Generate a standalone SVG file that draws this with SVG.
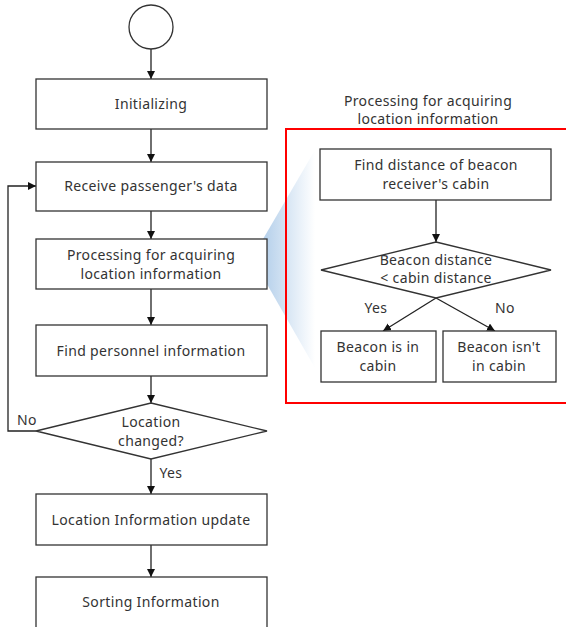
<svg xmlns="http://www.w3.org/2000/svg" width="566" height="627" viewBox="0 0 566 627">
<defs>
<style>
.box{fill:#fff;stroke:#333;stroke-width:1.3}
.t{font-family:"Noto Sans","Open Sans",sans-serif;font-size:14px;fill:#333;text-anchor:middle;letter-spacing:0.35px}
.c{fill:none;stroke:#222;stroke-width:1.3}
</style>
<marker id="ah" viewBox="0 0 10 10" refX="10" refY="5" markerWidth="8" markerHeight="8" markerUnits="userSpaceOnUse" orient="auto">
<path d="M0,0 L10,5 L0,10 Z" fill="#111"/>
</marker>
<linearGradient id="bg" x1="0" y1="0" x2="1" y2="0">
<stop offset="0" stop-color="#a4c5e6"/>
<stop offset="1" stop-color="#a4c5e6" stop-opacity="0"/>
</linearGradient>
</defs>
<rect width="566" height="627" fill="#fff"/>
<polygon points="252,258 315,150 315,368" fill="url(#bg)"/>
<g id="connectors">
<line class="c" x1="151" y1="49" x2="151" y2="79" marker-end="url(#ah)"/>
<line class="c" x1="151" y1="129" x2="151" y2="162" marker-end="url(#ah)"/>
<line class="c" x1="151" y1="211" x2="151" y2="239" marker-end="url(#ah)"/>
<line class="c" x1="151" y1="289" x2="151" y2="325" marker-end="url(#ah)"/>
<line class="c" x1="151" y1="376" x2="151" y2="403" marker-end="url(#ah)"/>
<line class="c" x1="151" y1="459" x2="151" y2="494" marker-end="url(#ah)"/>
<line class="c" x1="151" y1="545" x2="151" y2="577" marker-end="url(#ah)"/>
<polyline class="c" points="36,431 8,431 8,186 36,186" marker-end="url(#ah)"/>
<line class="c" x1="436" y1="200" x2="436" y2="242" marker-end="url(#ah)"/>
<line class="c" x1="436" y1="298" x2="383" y2="331" marker-end="url(#ah)"/>
<line class="c" x1="436" y1="298" x2="495" y2="331" marker-end="url(#ah)"/>
</g>
<text class="t" x="27" y="425">No</text>
<text class="t" x="171" y="478">Yes</text>
<text class="t" x="376" y="313">Yes</text>
<text class="t" x="505" y="313">No</text>
<g id="start"><circle class="box" cx="151" cy="27" r="22"/></g>
<g id="init"><rect class="box" x="36" y="79" width="231" height="50"/><text class="t" x="151" y="109">Initializing</text></g>
<g id="receive"><rect class="box" x="36" y="162" width="231" height="49"/><text class="t" x="151" y="191">Receive  passenger's data</text></g>
<g id="processing"><rect class="box" x="36" y="239" width="231" height="50"/><text class="t" x="151" y="260">Processing for acquiring</text><text class="t" x="151" y="279">location information</text></g>
<g id="personnel"><rect class="box" x="36" y="325" width="231" height="51"/><text class="t" x="151" y="356">Find personnel information</text></g>
<g id="changed"><polygon class="box" points="151,403 267,431 151,459 36,431"/><text class="t" x="151" y="427">Location</text><text class="t" x="151" y="446">changed?</text></g>
<g id="update"><rect class="box" x="36" y="494" width="231" height="51"/><text class="t" x="151" y="525">Location  Information update</text></g>
<g id="sorting"><rect class="box" x="36" y="577" width="231" height="52"/><text class="t" x="151" y="607">Sorting Information</text></g>
<g id="panel">
<text class="t" x="428" y="106">Processing for acquiring</text>
<text class="t" x="428" y="124">location information</text>
<polyline points="568,129 286,129 286,403 568,403" fill="none" stroke="#f00" stroke-width="2"/>
</g>
<g id="finddist"><rect class="box" x="320" y="149" width="231" height="51"/><text class="t" x="436" y="170">Find distance of beacon</text><text class="t" x="436" y="189">receiver's cabin</text></g>
<g id="beacondist"><polygon class="box" points="436,242 551,270 436,298 321,270"/><text class="t" x="436" y="265">Beacon distance</text><text class="t" x="436" y="283">&lt; cabin distance</text></g>
<g id="incabin"><rect class="box" x="321" y="331" width="115" height="51"/><text class="t" x="378" y="352">Beacon is in</text><text class="t" x="378" y="371">cabin</text></g>
<g id="notcabin"><rect class="box" x="443" y="331" width="113" height="51"/><text class="t" x="499" y="352">Beacon isn't</text><text class="t" x="499" y="371">in cabin</text></g>
</svg>
